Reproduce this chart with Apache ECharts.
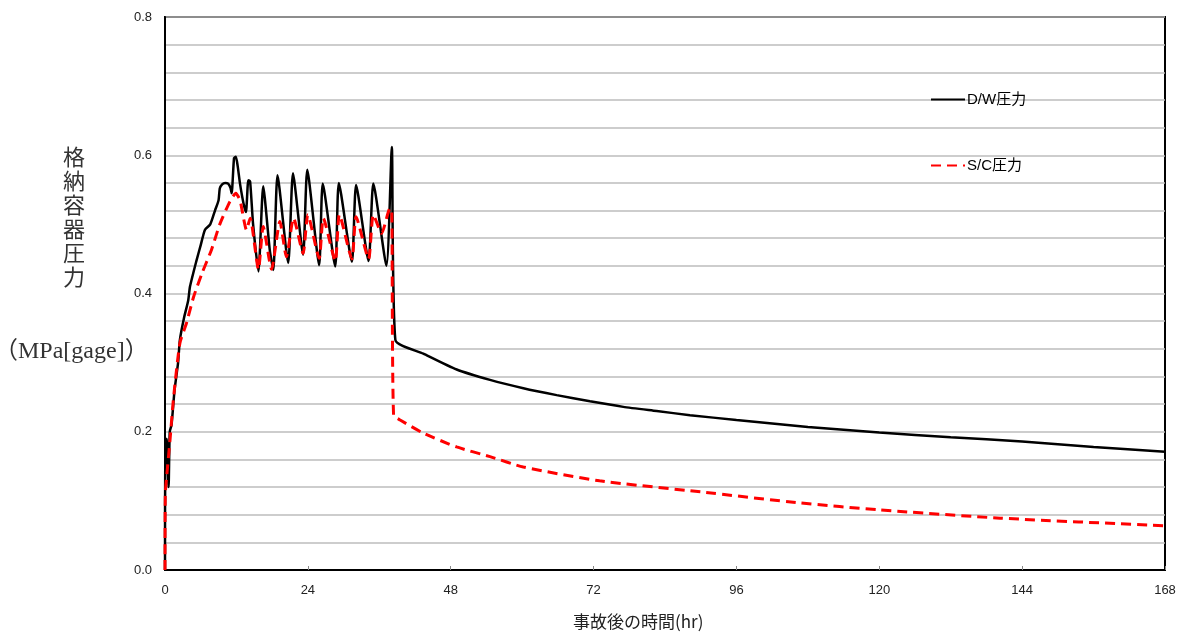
<!DOCTYPE html>
<html>
<head>
<meta charset="utf-8">
<script src="https://cdn.jsdelivr.net/npm/echarts@6/dist/echarts.min.js"></script>
<style>
html,body{margin:0;padding:0;background:#fff;}
#chart{width:1186px;height:637px;}
</style>
</head>
<body>
<div id="chart"></div>
<script>
// Time (hr) and pressure (MPa[gage])
const dwTime = [0, 0.05, 0.3, 0.6, 0.8, 1.1, 1.6, 2.2, 2.5, 3.2, 3.9, 4.2, 5.3, 6.0, 6.7, 7.6, 8.4, 9.0, 9.2, 9.6, 10.1, 10.6, 11.0, 11.2, 11.6, 11.9, 12.2, 12.6, 13.2, 13.6, 14.0, 14.3, 14.8, 15.7, 16.5, 17.6, 18.2, 18.9, 20.7, 21.5, 23.2, 23.9, 25.9, 26.5, 28.6, 29.2, 31.4, 32.1, 34.2, 35.0, 37.2, 38.1, 38.7, 43.4, 49, 54.6, 60.2, 65.8, 71.4, 77, 82.6, 88.2, 96, 108, 120, 132, 144, 156, 168];
const dwPressure = [0, 0.17, 0.19, 0.12, 0.2, 0.21, 0.26, 0.30, 0.333, 0.365, 0.39, 0.41, 0.448, 0.47, 0.492, 0.50, 0.52, 0.535, 0.552, 0.558, 0.56, 0.559, 0.553, 0.545, 0.596, 0.598, 0.585, 0.559, 0.53, 0.518, 0.564, 0.562, 0.50, 0.432, 0.555, 0.463, 0.434, 0.571, 0.444, 0.574, 0.456, 0.579, 0.441, 0.559, 0.439, 0.560, 0.446, 0.557, 0.447, 0.559, 0.44, 0.612, 0.333, 0.313, 0.290, 0.275, 0.263, 0.253, 0.244, 0.236, 0.230, 0.224, 0.217, 0.207, 0.199, 0.192, 0.186, 0.178, 0.171];

const scTime = [0, 0.05, 0.28, 0.84, 1.4, 2.5, 3.6, 4.8, 6.2, 7.8, 9.2, 10.9, 11.9, 12.6, 13.7, 14.3, 15.7, 16.5, 17.9, 19.3, 20.4, 21.6, 23.2, 24.0, 25.9, 26.6, 28.6, 29.3, 31.4, 32.1, 34.2, 35.0, 36.4, 37.8, 38.1, 38.4, 39.5, 43.4, 49, 54.6, 60.2, 73, 90, 106.7, 120, 140.3, 168];
const scPressure = [0, 0.11, 0.135, 0.188, 0.246, 0.328, 0.357, 0.395, 0.429, 0.463, 0.50, 0.533, 0.545, 0.535, 0.492, 0.509, 0.435, 0.497, 0.435, 0.504, 0.453, 0.509, 0.458, 0.514, 0.451, 0.509, 0.447, 0.514, 0.45, 0.511, 0.45, 0.514, 0.487, 0.523, 0.52, 0.224, 0.217, 0.198, 0.178, 0.164, 0.149, 0.129, 0.113, 0.097, 0.087, 0.075, 0.064];

const seriesNames = ['D/W圧力', 'S/C圧力'];
const xTitle = '事故後の時間(hr)';
const yTitle = '格納容器圧力';
const yUnit = '（MPa[gage]）';

const zip = (a, b) => a.map((t, i) => [t, b[i]]);

const chart = echarts.init(document.getElementById('chart'));
chart.setOption({
  backgroundColor: '#fff',
  animation: false,
  grid: {left: 165, right: 21, top: 17, bottom: 67, show: true, borderColor: '#000', borderWidth: 2, backgroundColor: 'transparent'},
  legend: {
    orient: 'vertical', left: 925, top: 87, itemGap: 51, itemWidth: 34, itemHeight: 14,
    itemStyle: {opacity: 0},
    textStyle: {fontFamily: 'Liberation Sans, Noto Sans CJK JP', fontSize: 15, color: '#000', padding: [0, 0, 0, -3]},
    data: seriesNames
  },
  xAxis: {
    type: 'value', min: 0, max: 168, interval: 24,
    axisLine: {show: true, lineStyle: {color: '#000', width: 2}},
    axisTick: {show: true, inside: true, length: 4, lineStyle: {color: '#888'}},
    splitLine: {show: false},
    axisLabel: {margin: 14, fontFamily: 'Liberation Sans', fontSize: 13, color: '#222'}
  },
  yAxis: {
    type: 'value', min: 0, max: 0.8, interval: 0.04,
    axisLine: {show: true, lineStyle: {color: '#000', width: 2}},
    axisTick: {show: false},
    splitLine: {show: true, lineStyle: {color: '#bdbdbd', width: 1.5}},
    axisLabel: {
      margin: 13, fontFamily: 'Liberation Sans', fontSize: 13, color: '#222',
      formatter: v => Math.abs(v / 0.2 - Math.round(v / 0.2)) < 1e-6 ? v.toFixed(1) : ''
    }
  },
  graphic: [
    {type: 'text', left: 63, top: 145, style: {text: yTitle.split('').join('\n'), fontFamily: 'Noto Sans CJK JP', fontSize: 22, lineHeight: 24, fill: '#333'}},
    {type: 'text', left: -6, top: 340, style: {text: yUnit, fontFamily: 'Liberation Serif, Noto Sans CJK JP', fontSize: 24, fill: '#333'}},
    {type: 'text', left: 573, top: 613, style: {text: xTitle, fontFamily: 'Noto Sans CJK JP', fontSize: 17, fill: '#222'}}
  ],
  series: [
    {name: seriesNames[0], type: 'line', data: zip(dwTime, dwPressure), showSymbol: false, symbol: 'none',
     smooth: 0.2,
     lineStyle: {color: '#000', width: 2.5}, itemStyle: {color: '#000'}, z: 3},
    {name: seriesNames[1], type: 'line', data: zip(scTime, scPressure), showSymbol: false, symbol: 'none',
     smooth: 0.2,
     lineStyle: {color: '#ff0000', width: 3, type: [10, 6]}, itemStyle: {color: '#ff0000'}, z: 4}
  ]
});
</script>
</body>
</html>
